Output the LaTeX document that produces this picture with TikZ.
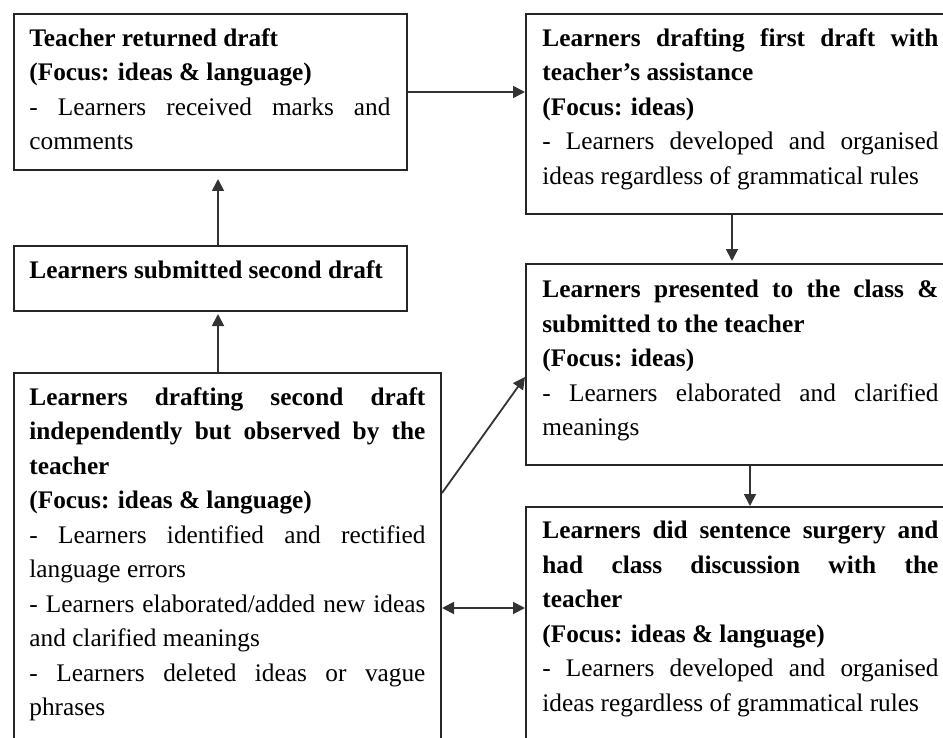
\documentclass[tikz,border=0pt]{standalone}
\usepackage{fontspec}
\setmainfont{Liberation Serif}
\usetikzlibrary{arrows.meta,calc}
\setlength{\parindent}{0pt}
\begin{document}
\begin{tikzpicture}[x=0.5pt,y=-0.5pt,
  box/.style={draw=black!85, line width=1pt, rectangle, inner sep=0pt, anchor=north west},
  txt/.style={anchor=north west, inner sep=0pt, text width=198pt, align=justify,
    font=\fontsize{12.65pt}{17.25pt}\selectfont},
  arr/.style={draw=black!80, line width=0.9pt, -{Triangle[length=6pt,width=6pt]}},
  arrb/.style={draw=black!80, line width=0.9pt, {Triangle[length=6pt,width=6pt]}-{Triangle[length=6pt,width=6pt]}}]
\useasboundingbox (0,0) rectangle (943,738);
\fill[white] (0,0) rectangle (943,738);
\clip (0,0) rectangle (943,738);
% boxes
\node[box, minimum width=196.5pt, minimum height=78pt] (A) at (13,13) {};
\node[box, minimum width=196.5pt, minimum height=32.5pt] (C) at (13,245) {};
\node[box, minimum width=213.5pt, minimum height=194pt] (D) at (13,372) {};
\node[box, minimum width=217.5pt, minimum height=100pt] (B) at (525,13) {};
\node[box, minimum width=217.5pt, minimum height=100.5pt] (E) at (525,263) {};
\node[box, minimum width=217.5pt, minimum height=127pt] (F) at (525,506) {};
% texts
\node[txt, text width=180.5pt] (At) at (29,28) {\textbf{Teacher returned draft}\\ \textbf{(Focus: ideas \& language)}\\ - Learners received marks and\linebreak comments};
\node[txt] (Ct) at (29,260) {\textbf{Learners submitted second draft}};
\node[txt] (Dt) at (29,387) {\textbf{Learners drafting second draft\linebreak independently but observed by the\linebreak teacher}\\ \textbf{(Focus: ideas \& language)}\\ - Learners identified and rectified\linebreak language errors\\ - Learners elaborated/added new ideas\linebreak and clarified meanings\\ - Learners deleted ideas or vague\linebreak phrases};
\node[txt] (Bt) at (542,28) {\textbf{Learners drafting first draft with\linebreak teacher’s assistance}\\ \textbf{(Focus: ideas)}\\ - Learners developed and organised\linebreak ideas regardless of grammatical rules};
\node[txt] (Et) at (542,280) {\textbf{Learners presented to the class \&\linebreak submitted to the teacher}\\ \textbf{(Focus: ideas)}\\ - Learners elaborated and clarified\linebreak meanings};
\node[txt] (Ft) at (542,521) {\textbf{Learners did sentence surgery and\linebreak had class discussion with the\linebreak teacher}\\ \textbf{(Focus: ideas \& language)}\\ - Learners developed and organised\linebreak ideas regardless of grammatical rules};
% helper coordinates
\coordinate (xl) at (218,0);
\coordinate (xr1) at (732,0);
\coordinate (xr2) at (750,0);
\coordinate (dy) at (0,493);
\coordinate (ey) at (0,377);
\coordinate (fy) at (0,608);
% connectors
\draw[arr] (A.east) -- (A.east -| B.west);
\draw[arr, shorten >=4pt] (C.north -| xl) -- (A.south -| xl);
\draw[arr, shorten >=1pt] (D.north -| xl) -- (C.south -| xl);
\draw[arr, shorten >=1pt] (B.south -| xr1) -- (E.north -| xr1);
\draw[arr] (E.south -| xr2) -- (F.north -| xr2);
\draw[arr] (D.east |- dy) -- (E.west |- ey);
\draw[arrb] (D.east |- fy) -- (F.west |- fy);
\end{tikzpicture}
\end{document}
